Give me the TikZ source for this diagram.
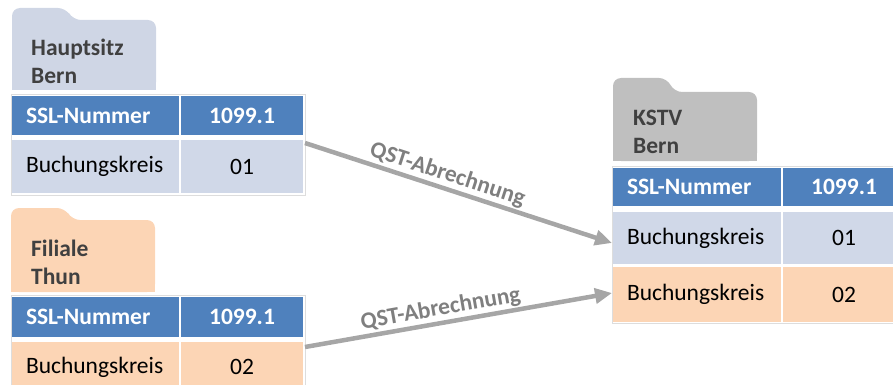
\documentclass[tikz,border=0pt]{standalone}
\usepackage{fontspec}
\setmainfont{Carlito}
\usetikzlibrary{arrows.meta,calc}
\definecolor{hdrblue}{HTML}{4F81BD}
\definecolor{lblue}{HTML}{D0D8E8}
\definecolor{fblue}{HTML}{CFD6E5}
\definecolor{peach}{HTML}{FCD5B5}
\definecolor{fgray}{HTML}{BFBFBF}
\definecolor{arrgray}{HTML}{A6A6A6}
\definecolor{lblgray}{HTML}{7F7F7F}
\definecolor{ftext}{HTML}{404040}
\definecolor{frame}{HTML}{DDDDDD}
\tikzset{
  cell/.style={rectangle, anchor=north west, inner ysep=0pt, outer sep=0pt,
    font=\fontsize{23.5}{28}\selectfont},
  lcell/.style={cell, inner xsep=14pt, align=left},
  ccell/.style={cell, inner xsep=0pt, align=center},
  hdr/.style={fill=hdrblue, text=white, font=\fontsize{23.5}{28}\selectfont\bfseries},
  foldertext/.style={anchor=west, inner sep=0pt, align=left, text=ftext,
    font=\fontsize{23.5}{28}\selectfont\bfseries},
  flow/.style={draw=arrgray, line width=4.5pt, -{Triangle[length=17pt,width=15pt]}},
  flowlabel/.style={sloped, above, inner sep=1.5pt, text=lblgray,
    font=\fontsize{23.5}{28}\selectfont\bfseries},
  tframe/.style={draw=frame, line width=0.8pt}
}
\begin{document}
\begin{tikzpicture}[x=1pt,y=-1pt]
\useasboundingbox (0,0) rectangle (893,385);
\clip (0,0) rectangle (893,385);

% ---------- folders ----------
% Hauptsitz Bern
\fill[fblue, rounded corners=8pt] (12,90) -- (12,8) -- (66,8) -- (73,20) -- (156,20) -- (156,90) -- cycle;
\fill[fblue] (12,70) rectangle (156,90);
\node[foldertext] (fhs) at (31,61) {Hauptsitz\\Bern};

% Filiale Thun
\fill[peach, rounded corners=8pt] (11,292) -- (11,208) -- (65,208) -- (72,220) -- (155,220) -- (155,292) -- cycle;
\fill[peach] (11,270) rectangle (155,292);
\node[foldertext] (fft) at (31,262) {Filiale\\Thun};

% KSTV Bern
\fill[fgray, rounded corners=8pt] (613,161) -- (613,78) -- (667,78) -- (674,92) -- (757,92) -- (757,161) -- cycle;
\fill[fgray] (613,140) rectangle (757,161);
\node[foldertext] (fks) at (633,131.5) {KSTV\\Bern};

% ---------- table Hauptsitz ----------
\draw[tframe] (11,94.5) rectangle (305,195);
\node[lcell, hdr, text width=139pt, minimum height=39pt] (hs1) at (12,96) {SSL-Nummer};
\node[ccell, hdr, minimum width=122pt, minimum height=39pt] (hs2) at (181,96) {1099.1};
\node[lcell, fill=lblue, text width=139pt, minimum height=53pt] (hb1) at (12,140) {Buchungskreis};
\node[ccell, fill=lblue, minimum width=122pt, minimum height=53pt] (hb2) at (181,140) {01};

% ---------- table Filiale ----------
\draw[tframe] (11,295.5) rectangle (305,400);
\node[lcell, hdr, text width=139pt, minimum height=40pt] (fs1) at (12,297) {SSL-Nummer};
\node[ccell, hdr, minimum width=122pt, minimum height=40pt] (fs2) at (181,297) {1099.1};
\node[lcell, fill=peach, text width=139pt, minimum height=50pt] (fb1) at (12,342) {Buchungskreis};
\node[ccell, fill=peach, minimum width=122pt, minimum height=50pt] (fb2) at (181,342) {02};

% ---------- table KSTV ----------
\draw[tframe] (612,166.5) rectangle (910,323.5);
\node[lcell, hdr, text width=140pt, minimum height=38pt] (ks1) at (613,168) {SSL-Nummer};
\node[ccell, hdr, minimum width=122pt, minimum height=38pt] (ks2) at (783,168) {1099.1};
\node[lcell, fill=lblue, text width=140pt, minimum height=52pt] (kb1) at (613,212) {Buchungskreis};
\node[ccell, fill=lblue, minimum width=122pt, minimum height=52pt] (kb2) at (783,212) {01};
\node[lcell, fill=peach, text width=140pt, minimum height=55pt] (kp1) at (613,267) {Buchungskreis};
\node[ccell, fill=peach, minimum width=122pt, minimum height=55pt] (kp2) at (783,267) {02};

% ---------- arrows ----------
\coordinate (a1s) at ($(hb2.north east)+(2,3)$);
\coordinate (a1e) at ($(kb1.west)+(-1,5)$);
\coordinate (a2s) at ($(fb2.north east)+(2,5)$);
\coordinate (a2e) at ($(kp1.west)+(-1,-1.5)$);
\draw[flow] (a1s) -- node[flowlabel, pos=0.45] {QST-Abrechnung} (a1e);
\draw[flow] (a2s) -- node[flowlabel, pos=0.45] {QST-Abrechnung} (a2e);
\end{tikzpicture}
\end{document}
